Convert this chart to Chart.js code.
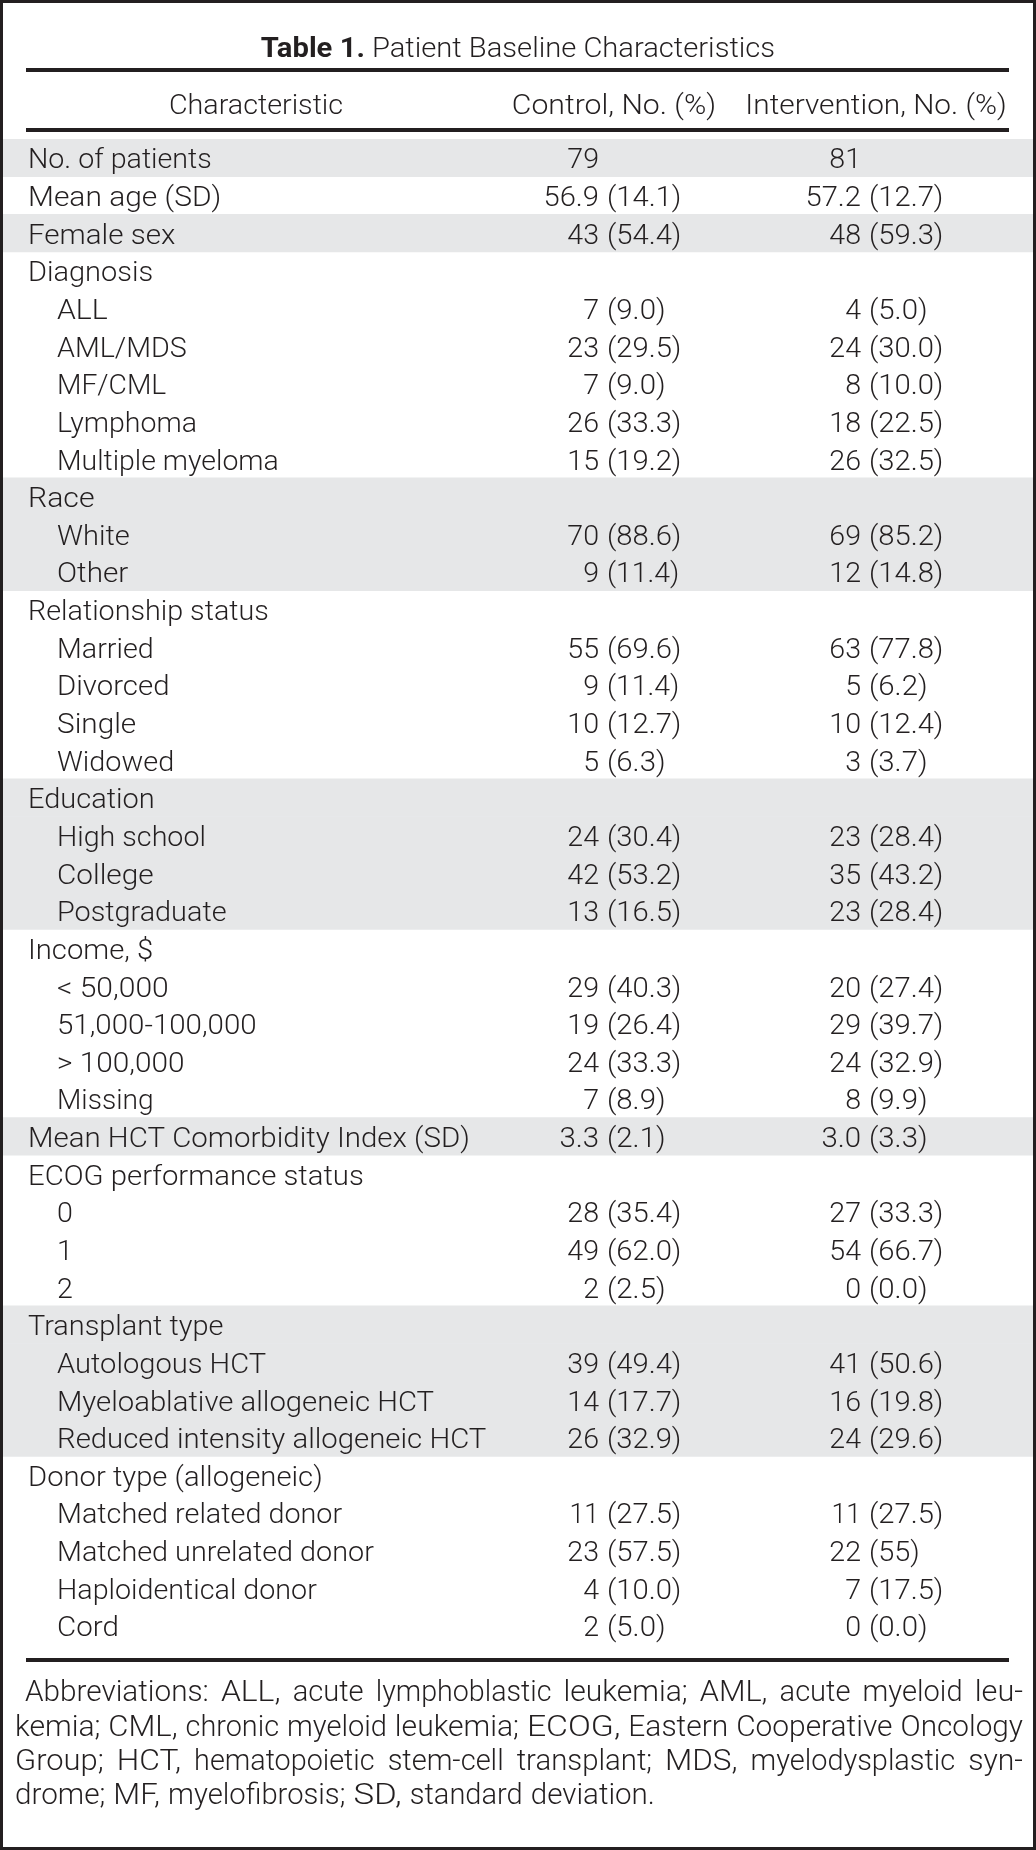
<!DOCTYPE html>
<html>
<head>
<meta charset="utf-8">
<title>Table 1. Patient Baseline Characteristics</title>
<script src="https://cdn.jsdelivr.net/npm/chart.js@4.4.1/dist/chart.umd.min.js"></script>
<style>
  html, body { margin: 0; padding: 0; background: #fff; }
  .frame { width: 1036px; height: 1850px; box-sizing: border-box; border: 3px solid #231f20; }
  canvas { display: block; }
</style>
</head>
<body>
<div class="frame"><canvas id="table1" width="1030" height="1844"></canvas></div>
<script>
// Table content
const rowLabels = [
  'No. of patients', 'Mean age (SD)', 'Female sex',
  'Diagnosis', 'ALL', 'AML/MDS', 'MF/CML', 'Lymphoma', 'Multiple myeloma',
  'Race', 'White', 'Other',
  'Relationship status', 'Married', 'Divorced', 'Single', 'Widowed',
  'Education', 'High school', 'College', 'Postgraduate',
  'Income, $', '< 50,000', '51,000-100,000', '> 100,000', 'Missing',
  'Mean HCT Comorbidity Index (SD)',
  'ECOG performance status', '0', '1', '2',
  'Transplant type', 'Autologous HCT', 'Myeloablative allogeneic HCT', 'Reduced intensity allogeneic HCT',
  'Donor type (allogeneic)', 'Matched related donor', 'Matched unrelated donor', 'Haploidentical donor', 'Cord'
];
const rowLevel = [
  0, 0, 0,
  0, 1, 1, 1, 1, 1,
  0, 1, 1,
  0, 1, 1, 1, 1,
  0, 1, 1, 1,
  0, 1, 1, 1, 1,
  0,
  0, 1, 1, 1,
  0, 1, 1, 1,
  0, 1, 1, 1, 1
];
const controlValues = [
  '79', '56.9 (14.1)', '43 (54.4)',
  '', '7 (9.0)', '23 (29.5)', '7 (9.0)', '26 (33.3)', '15 (19.2)',
  '', '70 (88.6)', '9 (11.4)',
  '', '55 (69.6)', '9 (11.4)', '10 (12.7)', '5 (6.3)',
  '', '24 (30.4)', '42 (53.2)', '13 (16.5)',
  '', '29 (40.3)', '19 (26.4)', '24 (33.3)', '7 (8.9)',
  '3.3 (2.1)',
  '', '28 (35.4)', '49 (62.0)', '2 (2.5)',
  '', '39 (49.4)', '14 (17.7)', '26 (32.9)',
  '', '11 (27.5)', '23 (57.5)', '4 (10.0)', '2 (5.0)'
];
const interventionValues = [
  '81', '57.2 (12.7)', '48 (59.3)',
  '', '4 (5.0)', '24 (30.0)', '8 (10.0)', '18 (22.5)', '26 (32.5)',
  '', '69 (85.2)', '12 (14.8)',
  '', '63 (77.8)', '5 (6.2)', '10 (12.4)', '3 (3.7)',
  '', '23 (28.4)', '35 (43.2)', '23 (28.4)',
  '', '20 (27.4)', '29 (39.7)', '24 (32.9)', '8 (9.9)',
  '3.0 (3.3)',
  '', '27 (33.3)', '54 (66.7)', '0 (0.0)',
  '', '41 (50.6)', '16 (19.8)', '24 (29.6)',
  '', '11 (27.5)', '22 (55)', '7 (17.5)', '0 (0.0)'
];
const shadedRows = [0, 2, 9, 10, 11, 17, 18, 19, 20, 26, 31, 32, 33, 34];
const columnHeaders = ['Characteristic', 'Control, No. (%)', 'Intervention, No. (%)'];
const titleBold = 'Table 1.';
const titleText = ' Patient Baseline Characteristics';
const footnoteLines = [
  'Abbreviations: ALL, acute lymphoblastic leukemia; AML, acute myeloid leu-',
  'kemia; CML, chronic myeloid leukemia; ECOG, Eastern Cooperative Oncology',
  'Group; HCT, hematopoietic stem-cell transplant; MDS, myelodysplastic syn-',
  'drome; MF, myelofibrosis; SD, standard deviation.'
];

const W = 1030;
const INK = '#231f20';
const SIZE = 28.5;

// Light face for drawing, Helvetica-metric face for widths
function measure(ctx, text, size, weight) {
  ctx.font = weight + ' ' + size + 'px "Liberation Sans", Arial, sans-serif';
  return ctx.measureText(text).width;
}

function drawText(ctx, text, x, y, align, size, weight) {
  const target = measure(ctx, text, size, weight);
  ctx.font = (weight > 400 ? 700 : 300) + ' ' + size + 'px Roboto, sans-serif';
  const actual = ctx.measureText(text).width;
  ctx.save();
  ctx.translate(x, y);
  ctx.scale(actual > 0 ? target / actual : 1, 1);
  ctx.textAlign = align;
  ctx.fillText(text, 0, 0);
  ctx.restore();
  return target;
}

// "n (pct)": number right-aligned, parentheses in a column
function drawValue(ctx, text, anchorX, y) {
  const cut = text.indexOf(' (');
  if (cut < 0) {
    drawText(ctx, text, anchorX, y, 'right', SIZE, 300);
    return;
  }
  const gap = measure(ctx, ' ', SIZE, 300);
  drawText(ctx, text.slice(0, cut), anchorX, y, 'right', SIZE, 300);
  drawText(ctx, text.slice(cut + 1), anchorX + gap, y, 'left', SIZE, 300);
}

function drawJustified(ctx, line, x0, x1, y, size, justify) {
  const words = line.split(' ');
  const widths = words.map(w => measure(ctx, w, size, 300));
  const total = widths.reduce((s, w) => s + w, 0);
  const gap = justify ? (x1 - x0 - total) / (words.length - 1) : measure(ctx, ' ', size, 300);
  let x = x0;
  words.forEach((w, i) => {
    drawText(ctx, w, x, y, 'left', size, 300);
    x += widths[i] + gap;
  });
}

const tablePlugin = {
  id: 'tableText',
  afterDatasetsDraw(chart) {
    const ctx = chart.ctx;
    const x = chart.scales.x;
    const y = chart.scales.y;
    ctx.save();
    ctx.fillStyle = INK;
    ctx.textBaseline = 'middle';

    // title
    const wb = measure(ctx, titleBold, SIZE, 700);
    const wt = measure(ctx, titleText, SIZE, 300);
    const tx = x.getPixelForValue(515) - (wb + wt) / 2;
    drawText(ctx, titleBold, tx, 47, 'left', SIZE, 700);
    drawText(ctx, titleText, tx + wb, 47, 'left', SIZE, 300);

    // rules
    ctx.fillRect(x.getPixelForValue(23), 65, 983, 4);
    ctx.fillRect(x.getPixelForValue(23), 125, 983, 4);
    ctx.fillRect(x.getPixelForValue(23), 1655, 983, 4);

    // column headers
    drawText(ctx, columnHeaders[0], x.getPixelForValue(253), 104, 'center', SIZE, 300);
    drawText(ctx, columnHeaders[1], x.getPixelForValue(611), 104, 'center', SIZE, 300);
    drawText(ctx, columnHeaders[2], x.getPixelForValue(873), 104, 'center', SIZE, 300);

    // body cells
    rowLabels.forEach((label, i) => {
      const cy = y.getPixelForValue(i) + 3.5;
      drawText(ctx, label, x.getPixelForValue(rowLevel[i] ? 54 : 25), cy, 'left', SIZE, 300);
      if (controlValues[i]) drawValue(ctx, controlValues[i], x.getPixelForValue(596), cy);
      if (interventionValues[i]) drawValue(ctx, interventionValues[i], x.getPixelForValue(858), cy);
    });

    // footnote
    footnoteLines.forEach((line, i) => {
      const last = i === footnoteLines.length - 1;
      drawJustified(ctx, line, i === 0 ? 22 : 12, 1020, 1691 + i * 34.3, 29, !last);
    });
    ctx.restore();
  }
};

new Chart(document.getElementById('table1'), {
  type: 'bar',
  data: {
    labels: rowLabels,
    datasets: [{
      data: rowLabels.map((_, i) => shadedRows.includes(i) ? [0, W] : null),
      backgroundColor: '#e6e7e8',
      borderWidth: 0,
      barPercentage: 1,
      categoryPercentage: 1
    }]
  },
  options: {
    indexAxis: 'y',
    responsive: false,
    animation: false,
    events: [],
    layout: { padding: { top: 136, bottom: 202.4, left: 0, right: 0 } },
    scales: {
      x: { type: 'linear', min: 0, max: W, display: false },
      y: { type: 'category', offset: true, display: false }
    },
    plugins: {
      legend: { display: false },
      tooltip: { enabled: false },
      title: { display: false }
    }
  },
  plugins: [tablePlugin]
});
</script>
</body>
</html>
